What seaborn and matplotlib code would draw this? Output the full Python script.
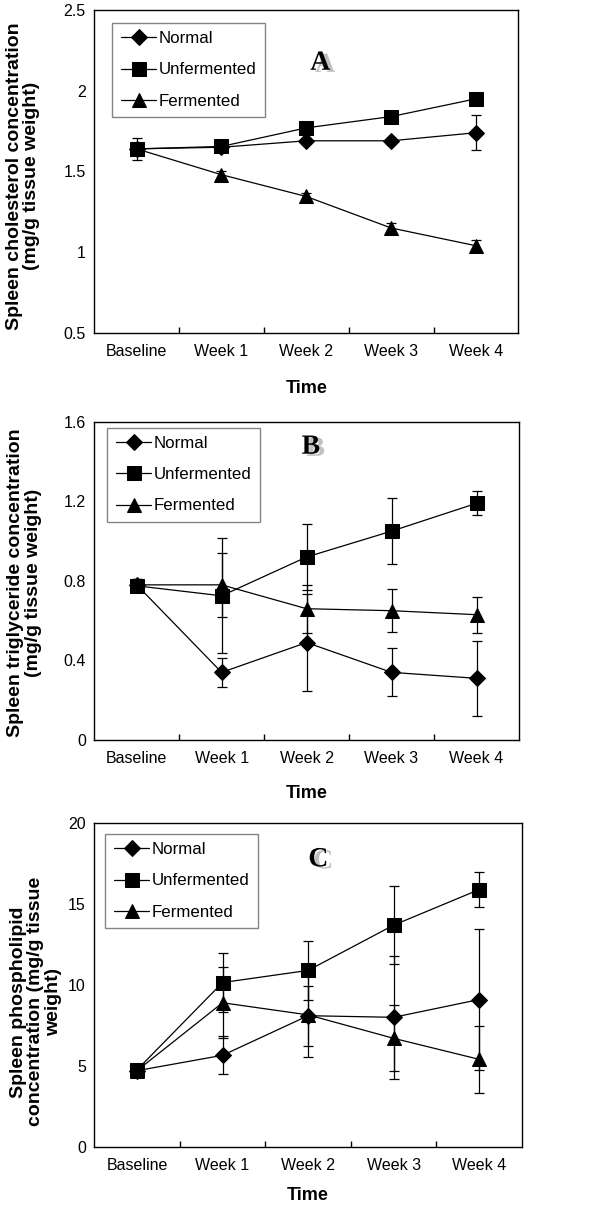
import numpy as np
import seaborn as sns
import matplotlib.pyplot as plt
import matplotlib.patheffects as pe

# Time points shared by all three panels
time_labels = ['Baseline', 'Week 1', 'Week 2', 'Week 3', 'Week 4']
groups = ['Normal', 'Unfermented', 'Fermented']

# Panel A: spleen cholesterol (mean, error)
chol_normal = [1.64, 1.65, 1.69, 1.69, 1.74]
chol_normal_err = [0.07, 0.02, 0.02, 0.02, 0.11]
chol_unferm = [1.64, 1.655, 1.77, 1.84, 1.95]
chol_unferm_err = [0.03, 0.02, 0.03, 0.02, 0.02]
chol_ferm = [1.64, 1.48, 1.345, 1.15, 1.04]
chol_ferm_err = [0.03, 0.02, 0.02, 0.03, 0.035]

# Panel B: spleen triglyceride
tg_normal = [0.78, 0.34, 0.49, 0.34, 0.31]
tg_normal_err = [0.03, 0.073, 0.245, 0.12, 0.19]
tg_unferm = [0.775, 0.725, 0.92, 1.05, 1.19]
tg_unferm_err = [0.03, 0.29, 0.166, 0.167, 0.06]
tg_ferm = [0.78, 0.78, 0.66, 0.65, 0.63]
tg_ferm_err = [0.03, 0.16, 0.12, 0.107, 0.09]

# Panel C: spleen phospholipid
pl_normal = [4.7, 5.65, 8.1, 8.0, 9.1]
pl_normal_err = [0.2, 1.17, 1.85, 3.8, 4.35]
pl_unferm = [4.75, 10.15, 10.9, 13.7, 15.9]
pl_unferm_err = [0.2, 1.85, 1.8, 2.4, 1.1]
pl_ferm = [4.7, 8.9, 8.15, 6.7, 5.4]
pl_ferm_err = [0.2, 2.2, 2.6, 2.05, 2.05]

sns.set_style('white')
plt.rcParams['font.family'] = ['Liberation Sans', 'DejaVu Sans']
plt.rcParams['text.color'] = 'black'
plt.rcParams['axes.labelcolor'] = 'black'
plt.rcParams['xtick.color'] = 'black'
plt.rcParams['ytick.color'] = 'black'

markers = {'Normal': ('D', 8.5), 'Unfermented': ('s', 9.5), 'Fermented': ('^', 10)}

panels = [
    dict(series=[(chol_normal, chol_normal_err), (chol_unferm, chol_unferm_err), (chol_ferm, chol_ferm_err)],
         ylim=(0.5, 2.5), yticks=[0.5, 1, 1.5, 2, 2.5], yticklabels=['0.5', '1', '1.5', '2', '2.5'],
         ylabel='Spleen cholesterol concentration\n(mg/g tissue weight)', letter='A',
         rect=[0.157, 0.7237, 0.707, 0.268], leg=(0.043, 0.96), let=(0.533, 0.835),
         ylab=(-0.127, 0.486), xlab=-0.146),
    dict(series=[(tg_normal, tg_normal_err), (tg_unferm, tg_unferm_err), (tg_ferm, tg_ferm_err)],
         ylim=(0, 1.6), yticks=[0, 0.4, 0.8, 1.2, 1.6], yticklabels=['0', '0.4', '0.8', '1.2', '1.6'],
         ylabel='Spleen triglyceride concentration\n(mg/g tissue weight)', letter='B',
         rect=[0.157, 0.3859, 0.708, 0.2641], leg=(0.031, 0.981), let=(0.51, 0.92),
         ylab=(-0.123, 0.494), xlab=-0.141),
    dict(series=[(pl_normal, pl_normal_err), (pl_unferm, pl_unferm_err), (pl_ferm, pl_ferm_err)],
         ylim=(0, 20), yticks=[0, 5, 10, 15, 20], yticklabels=['0', '5', '10', '15', '20'],
         ylabel='Spleen phospholipid\nconcentration (mg/g tissue\nweight)', letter='C',
         rect=[0.157, 0.0484, 0.713, 0.2684], leg=(0.026, 0.967), let=(0.524, 0.887),
         ylab=(-0.075, 0.448), xlab=-0.124),
]

fig = plt.figure(figsize=(6, 12.05), dpi=100)
x = np.arange(len(time_labels))

for p in panels:
    ax = fig.add_axes(p['rect'])
    for name, (vals, errs) in zip(groups, p['series']):
        m, ms = markers[name]
        ax.errorbar(x, vals, yerr=errs, fmt='none', ecolor='black',
                    elinewidth=0.9, capsize=3.5, capthick=0.9, zorder=2)
        sns.lineplot(x=x, y=vals, ax=ax, color='black', linewidth=0.9,
                     marker=m, markersize=ms, markeredgecolor='black',
                     markerfacecolor='black', label=name, zorder=3)

    ax.set_xlim(-0.5, len(time_labels) - 0.5)
    ax.set_ylim(*p['ylim'])
    ax.set_yticks(p['yticks'])
    ax.set_yticklabels(p['yticklabels'], fontsize=11.5)
    ax.set_xticks(x)
    ax.set_xticklabels(time_labels, fontsize=11.5)
    ax.set_xticks(x[:-1] + 0.5, minor=True)
    ax.tick_params(axis='x', which='major', bottom=True, length=0, pad=8)
    ax.tick_params(axis='x', which='minor', bottom=True, length=4, width=1,
                   direction='in', color='black')
    ax.tick_params(axis='y', left=True, length=0, pad=6)
    for s in ax.spines.values():
        s.set_color('black')
        s.set_linewidth(1)

    ax.set_ylabel(p['ylabel'], fontsize=14, fontweight='bold', linespacing=1.05)
    ax.yaxis.set_label_coords(*p['ylab'])
    ax.set_xlabel('Time', fontsize=13, fontweight='bold')
    ax.xaxis.set_label_coords(0.5, p['xlab'])
    ax.xaxis.label.set_va('top')

    leg = ax.legend(loc='upper left', bbox_to_anchor=p['leg'], borderaxespad=0,
                    fontsize=12.2, frameon=True, fancybox=False, handlelength=2.1,
                    labelspacing=0.95, handletextpad=0.15, borderpad=0.5)
    leg.get_frame().set_edgecolor('#666666')
    leg.get_frame().set_linewidth(1)

    # panel letter with a grey drop shadow
    lx, ly = p['let']
    ax.text(lx, ly, p['letter'], transform=ax.transAxes, fontsize=20,
            family='Liberation Serif', fontweight='bold', color='black',
            ha='center', va='center',
            path_effects=[pe.SimplePatchShadow(offset=(3.5, -1.5), shadow_rgbFace='#c0c0c0', alpha=1),
                          pe.Normal()])

plt.savefig('out.png', dpi=100)
